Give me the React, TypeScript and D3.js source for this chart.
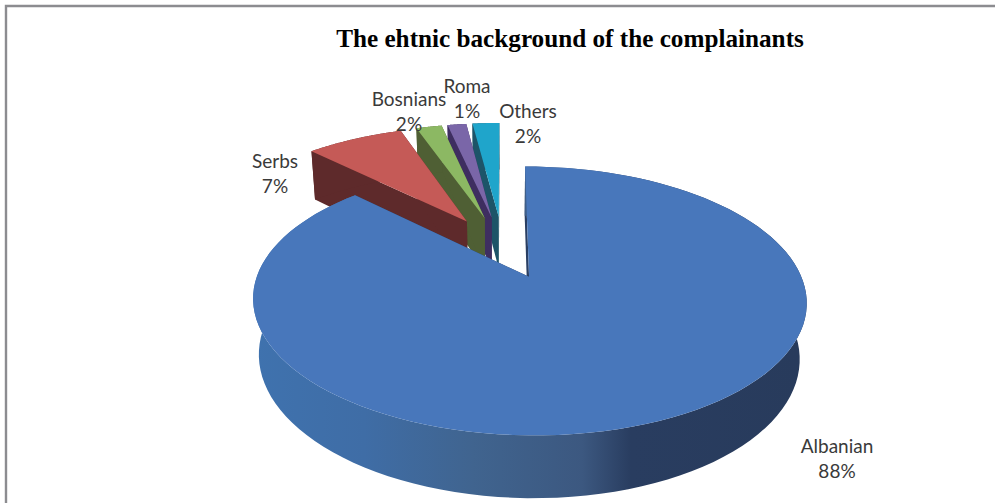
import * as d3 from 'd3';

const categories = ['Albanian', 'Serbs', 'Bosnians', 'Roma', 'Others'];
// labels show them rounded
const shares = [87.5, 7.2, 1.9, 1.4, 2.0];
const explodes = [0.25, 0.27, 0.27, 0.27, 0.27];
const topColors = ['#4877bb', '#c55a57', '#8cb863', '#7a66a8', '#1fa5cb'];
const sideColors = ['#2a3f63', '#5e2a2b', '#4f5f34', '#3e2e60', '#1d5468'];
// label centre and first baseline, second line sits lineGap lower
const labelAnchors: Record<string, [number, number]> = {
  Albanian: [837, 453],
  Serbs: [275, 168],
  Bosnians: [409, 106],
  Roma: [467, 93],
  Others: [528, 118],
};
const lineGap = 25;

const width = 995;
const height = 503;

// Excel-style 3D pie: unit circle in the plane, projected with perspective
const proj = { x0: 503, y0: 248, bx: 261.5, ay: 120, k: 0.172, drop: 55, q: 0.022 };

type Pt = [number, number];

function project(u: number, v: number, bottom = false): Pt {
  const w = 1 - proj.k * v + (bottom ? proj.q : 0);
  return [
    proj.x0 + (proj.bx * u) / w,
    proj.y0 + (proj.ay * v + (bottom ? proj.drop : 0)) / w,
  ];
}

const line = d3.line<Pt>();

export default function App() {
  const arcs = d3.pie<number>().sort(null)(shares);

  const slices = arcs.map((a, i) => {
    const mid = (a.startAngle + a.endAngle) / 2;
    const cu = explodes[i] * Math.sin(mid);
    const cv = -explodes[i] * Math.cos(mid);
    const steps = d3.range(0, 121).map(s => a.startAngle + ((a.endAngle - a.startAngle) * s) / 120);
    const rim = steps.map(t => [cu + Math.sin(t), cv - Math.cos(t)] as Pt);
    const topRim = rim.map(p => project(p[0], p[1]));
    const botRim = rim.map(p => project(p[0], p[1], true));
    const tip = project(cu, cv);
    const tipB = project(cu, cv, true);
    return {
      i,
      top: line([tip, ...topRim])! + 'Z',
      wall: line([...topRim, ...[...botRim].reverse()])! + 'Z',
      edgeA: line([tip, topRim[0], botRim[0], tipB])! + 'Z',
      edgeB: line([tip, topRim[120], botRim[120], tipB])! + 'Z',
    };
  });

  // painted right to left so each top hides the wall of its neighbour, blue last
  const order = [...slices.slice(1).reverse(), slices[0]];

  return (
    <svg
      width={width}
      height={height}
      style={{ position: 'absolute', left: 0, top: 0, background: '#fff' }}
    >
      <defs>
        <linearGradient id="blueWall" gradientUnits="userSpaceOnUse" x1={255} x2={800} y1={0} y2={0}>
          <stop offset="0" stopColor="#3f72ae" />
          <stop offset="0.2" stopColor="#3f6da6" />
          <stop offset="0.4" stopColor="#40648f" />
          <stop offset="0.6" stopColor="#3c5880" />
          <stop offset="0.69" stopColor="#293d60" />
          <stop offset="1" stopColor="#283b5c" />
        </linearGradient>
      </defs>
      <path d={`M6,${height}V6H${width}`} fill="none" stroke="#8c8c90" strokeWidth={2.4} />
      <text
        x={570}
        y={47}
        textAnchor="middle"
        fontFamily="'Liberation Serif', serif"
        fontWeight="bold"
        fontSize={25.2}
        fill="#000"
      >
        The ehtnic background of the complainants
      </text>
      {order.map(s => (
        <g key={categories[s.i]}>
          <path d={s.edgeA} fill={sideColors[s.i]} />
          <path d={s.edgeB} fill={sideColors[s.i]} />
          <path d={s.wall} fill={s.i === 0 ? 'url(#blueWall)' : sideColors[s.i]} />
          <path d={s.top} fill={topColors[s.i]} />
        </g>
      ))}
      {categories.map((c, i) => (
        <text
          key={c}
          textAnchor="middle"
          fontFamily="Lato, sans-serif"
          fontSize={19}
          fill="#3a3a3a"
        >
          <tspan x={labelAnchors[c][0]} y={labelAnchors[c][1]}>{c}</tspan>
          <tspan x={labelAnchors[c][0]} y={labelAnchors[c][1] + lineGap}>{Math.round(shares[i])}%</tspan>
        </text>
      ))}
    </svg>
  );
}
